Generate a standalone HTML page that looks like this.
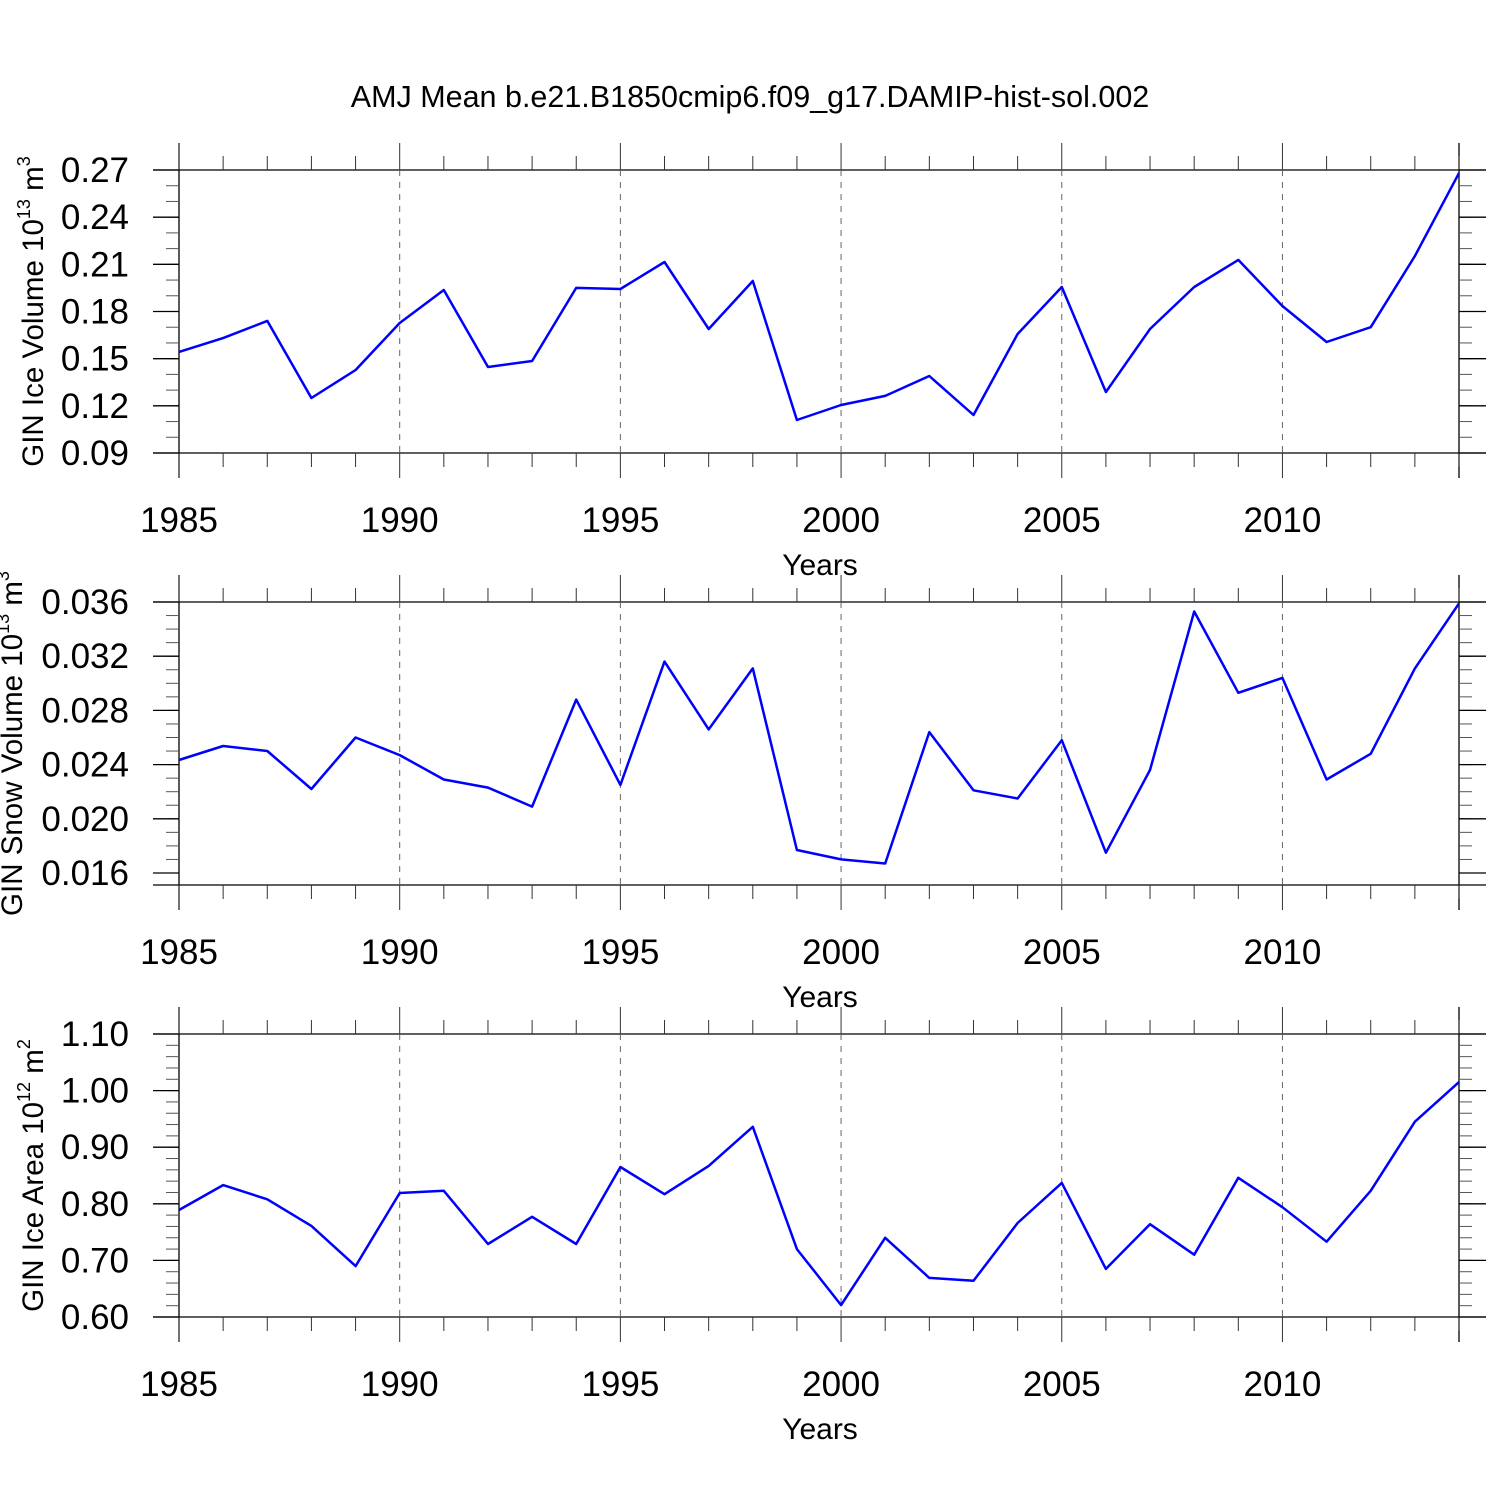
<!DOCTYPE html>
<html><head><meta charset="utf-8"><style>
body{margin:0;background:#fff}
svg text{font-family:"Liberation Sans",Arial,sans-serif;fill:#000}
</style></head><body>
<svg id="c" width="1500" height="1500" xmlns="http://www.w3.org/2000/svg">
<text x="750" y="107" font-size="30.5" text-anchor="middle">AMJ Mean b.e21.B1850cmip6.f09_g17.DAMIP-hist-sol.002</text>
</svg>
<script>
const years=[1985,1986,1987,1988,1989,1990,1991,1992,1993,1994,1995,1996,1997,1998,1999,2000,2001,2002,2003,2004,2005,2006,2007,2008,2009,2010,2011,2012,2013,2014];
const xTicks=[1985,1990,1995,2000,2005,2010];
const iceVolume=[0.1543,0.1631,0.174,0.125,0.1428,0.1727,0.1937,0.1447,0.1485,0.195,0.1943,0.2115,0.1689,0.1994,0.111,0.1205,0.1263,0.139,0.1142,0.1657,0.1956,0.1288,0.1689,0.1956,0.2128,0.1835,0.1606,0.170,0.2153,0.268];
const snowVolume=[0.02434,0.02537,0.0250,0.0222,0.0260,0.0247,0.0229,0.0223,0.0209,0.0288,0.0225,0.0316,0.0266,0.0311,0.0177,0.0170,0.0167,0.0264,0.0221,0.0215,0.0258,0.0175,0.0236,0.0353,0.0293,0.0304,0.0229,0.0248,0.0311,0.0359];
const iceArea=[0.789,0.833,0.808,0.761,0.690,0.819,0.823,0.729,0.777,0.729,0.865,0.817,0.867,0.936,0.720,0.621,0.740,0.669,0.664,0.766,0.837,0.685,0.764,0.710,0.846,0.794,0.733,0.823,0.945,1.015];
const ticks1=["0.09","0.12","0.15","0.18","0.21","0.24","0.27"];
const ticks2=["0.016","0.020","0.024","0.028","0.032","0.036"];
const ticks3=["0.60","0.70","0.80","0.90","1.00","1.10"];
const svg=document.getElementById('c');const NS="http://www.w3.org/2000/svg";
function mk(t,a,p){const e=document.createElementNS(NS,t);for(const k in a)e.setAttribute(k,a[k]);(p||svg).appendChild(e);return e;}
const X0=179,X1=1459;
function xs(y){return X0+(y-1985)/(2014-1985)*(X1-X0);}
function panel(name,top,bot,vTop,vBot,ticks,minorStep,data,labelHtml,labelX){
  const g=mk('g',{});
  
  
  const ys=v=>top+(vTop-v)/(vTop-vBot)*(bot-top);
  mk('line',{x1:153,x2:1486,y1:top,y2:top,stroke:'#000','stroke-width':1.3},g);
  mk('line',{x1:153,x2:1486,y1:bot,y2:bot,stroke:'#000','stroke-width':1.3},g);
  mk('line',{x1:X0,x2:X0,y1:top-27,y2:bot+25,stroke:'#000','stroke-width':1.3},g);
  mk('line',{x1:X1,x2:X1,y1:top-27,y2:bot+25,stroke:'#000','stroke-width':1.3},g);
  for(let y=1985;y<=2014;y++){
    const x=xs(y),maj=xTicks.includes(y);
    const L=maj?27:14;
    mk('line',{x1:x,x2:x,y1:top,y2:top-L,stroke:'#333','stroke-width':1},g);
    mk('line',{x1:x,x2:x,y1:bot,y2:bot+(maj?25:14),stroke:'#333','stroke-width':1},g);
    if(maj&&y>1985){mk('line',{x1:x,x2:x,y1:top,y2:bot,stroke:'#666','stroke-width':1,'stroke-dasharray':'6,6'},g);}
  }
  for(const y of xTicks){const t=mk('text',{x:xs(y),y:bot+79,'font-size':35,'text-anchor':'middle'},g);t.textContent=y;
    
    }
  const xt=mk('text',{x:820,y:bot+122,'font-size':30,'text-anchor':'middle'},g);xt.textContent='Years';
  
  
  for(let v=Math.ceil(vBot/minorStep)*minorStep;v<=vTop+1e-9;v+=minorStep){
    const y=ys(v);
    mk('line',{x1:X0-13,x2:X0,y1:y,y2:y,stroke:'#555','stroke-width':1},g);
    mk('line',{x1:X1,x2:X1+13,y1:y,y2:y,stroke:'#555','stroke-width':1},g);
  }
  for(const s of ticks){const y=ys(parseFloat(s));
    mk('line',{x1:153,x2:X0,y1:y,y2:y,stroke:'#000','stroke-width':1.3},g);
    mk('line',{x1:X1,x2:1486,y1:y,y2:y,stroke:'#000','stroke-width':1.3},g);
    const t=mk('text',{x:129,y:y+12,'font-size':35,'text-anchor':'end'},g);t.textContent=s;
    
    }
  const cy=(top+bot)/2;
  const yt=mk('text',{x:0,y:0,'font-size':29.5,'text-anchor':'middle',transform:`translate(${labelX},${cy}) rotate(-90)`},g);
  yt.innerHTML=labelHtml;
  
  
  const pts=data.map((v,i)=>xs(years[i]).toFixed(1)+','+ys(v).toFixed(1)).join(' ');
  const pl=mk('polyline',{points:pts,fill:'none',stroke:'#0000ff','stroke-width':2.5,'stroke-linejoin':'round'},g);
  
  
}
panel('ice-volume-panel',170,453,0.27,0.09,ticks1,0.01,iceVolume,'GIN Ice Volume 10<tspan font-size="18" dy="-13">13</tspan><tspan dy="13"> m</tspan><tspan font-size="18" dy="-13">3</tspan>',43);
panel('snow-volume-panel',602,885,0.036,0.036-283/54.2*0.004,ticks2,0.001,snowVolume,'GIN Snow Volume 10<tspan font-size="18" dy="-13">13</tspan><tspan dy="13"> m</tspan><tspan font-size="18" dy="-13">3</tspan>',22);
panel('ice-area-panel',1034,1317,1.10,0.60,ticks3,0.02,iceArea,'GIN Ice Area 10<tspan font-size="18" dy="-13">12</tspan><tspan dy="13"> m</tspan><tspan font-size="18" dy="-13">2</tspan>',43);
</script>
</body></html>
